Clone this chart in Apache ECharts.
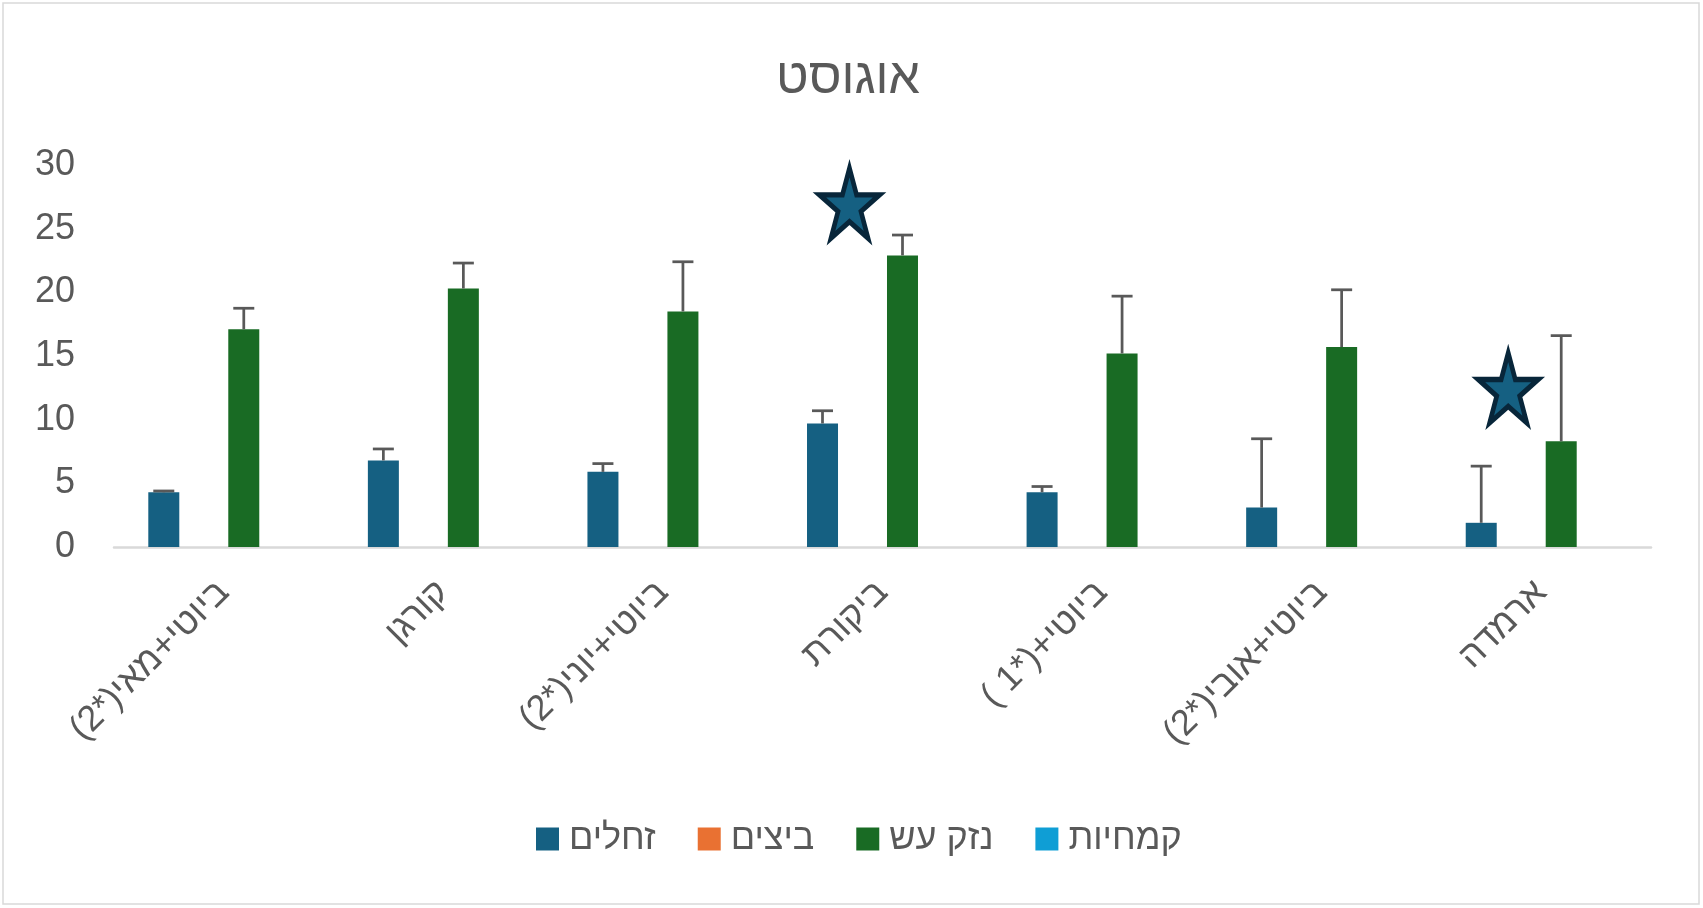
<!doctype html>
<html>
<head>
<meta charset="UTF-8">
<title>אוגוסט</title>
<script src="https://cdn.jsdelivr.net/npm/echarts@6/dist/echarts.min.js"></script>
<style>
    html, body { margin: 0; padding: 0; background: #fff; }
    #chart { width: 1703px; height: 908px; }
</style>
</head>
<body>
<div id="chart" dir="rtl"></div>
<script>
// קטגוריות (טיפולים)
var categories = ['ביוטי+מאי(*2)', 'קורגן', 'ביוטי+יוני(*2)', 'ביקורת', 'ביוטי+(*1 )', 'ביוטי+אובי(*2)', 'ארמדה'];
var seriesNames = ['זחלים', 'ביצים', 'נזק עש', 'קמחיות'];

// ממוצעים
var zachalim = [4.3, 6.8, 5.9, 9.7, 4.3, 3.1, 1.9];
var beitzim = [0, 0, 0, 0, 0, 0, 0];
var nezekAsh = [17.1, 20.3, 18.5, 22.9, 15.2, 15.7, 8.3];
var kamchiot = [0, 0, 0, 0, 0, 0, 0];

// שגיאת תקן (רק כלפי מעלה)
var zachalimErr = [0.1, 0.9, 0.65, 1.0, 0.45, 5.4, 4.45];
var nezekAshErr = [1.65, 2.0, 3.9, 1.6, 4.5, 4.5, 8.3];

// כוכבים - הבדל מובהק
var stars = [[3, 27.0], [6, 12.5]];

var colors = ['#156082', '#E97132', '#196B24', '#0F9ED5'];
var textColor = '#595959';
var font = 'Liberation Sans, Arial, sans-serif';

var barW = 31, barGapPx = 9;
// offset of bar slot i (of 4) from category centre
function slotOffset(i) {
    return (i - 1.5) * (barW + barGapPx);
}

function errData(vals, errs) {
    var out = [];
    for (var i = 0; i < vals.length; i++) {
        out.push([i, vals[i], vals[i] + errs[i]]);
    }
    return out;
}

function errSeries(vals, errs, slot) {
    return {
        type: 'custom',
        silent: true,
        z: 5,
        data: errData(vals, errs),
        renderItem: function (params, api) {
            var top = api.coord([api.value(0), api.value(2)]);
            var base = api.coord([api.value(0), api.value(1)]);
            var x = top[0] + slotOffset(slot);
            var st = { stroke: textColor, lineWidth: 2.75 };
            return {
                type: 'group',
                children: [
                    { type: 'line', shape: { x1: x, y1: base[1], x2: x, y2: top[1] }, style: st },
                    { type: 'line', shape: { x1: x - 10.5, y1: top[1], x2: x + 10.5, y2: top[1] }, style: st }
                ]
            };
        }
    };
}

var myChart = echarts.init(document.getElementById('chart'));

var barSeries = [zachalim, beitzim, nezekAsh, kamchiot].map(function (d, i) {
    return {
        name: seriesNames[i],
        type: 'bar',
        data: d,
        barWidth: barW,
        barGap: '29%',
        itemStyle: { color: colors[i] }
    };
});

var option = {
    animation: false,
    backgroundColor: '#fff',
    textStyle: { fontFamily: font },
    title: {
        text: 'אוגוסט',
        left: 843,
        textAlign: 'center',
        top: 49,
        textStyle: { fontSize: 50, fontWeight: 'normal', color: textColor, fontFamily: font }
    },
    legend: {
        data: seriesNames,
        bottom: 46,
        left: 531,
        itemWidth: 23,
        itemHeight: 23,
        itemGap: 42,
        icon: 'rect',
        textStyle: { fontSize: 36, color: textColor, fontFamily: font, padding: [0, 0, 0, 5] }
    },
    grid: { left: 114, right: 52, top: 165, bottom: 361, containLabel: false },
    xAxis: {
        type: 'category',
        data: categories,
        axisLine: { lineStyle: { color: '#D9D9D9', width: 2.5 } },
        axisTick: { show: false },
        axisLabel: {
            interval: 0,
            rotate: 45,
            margin: 40,
            fontSize: 36,
            color: textColor,
            fontFamily: font
        }
    },
    yAxis: {
        type: 'value',
        min: 0,
        max: 30,
        interval: 5,
        axisLine: { show: false },
        axisTick: { show: false },
        splitLine: { show: false },
        axisLabel: { fontSize: 36, color: textColor, margin: 39, fontFamily: font }
    },
    graphic: [{
        type: 'rect',
        silent: true,
        shape: { x: 3, y: 3, width: 1696, height: 901 },
        style: { fill: null, stroke: '#D9D9D9', lineWidth: 1.5 }
    }],
    series: barSeries.concat([
        errSeries(zachalim, zachalimErr, 0),
        errSeries(nezekAsh, nezekAshErr, 2),
        {
            type: 'scatter',
            data: stars,
            symbol: 'path://M50,0 L61.2,34.5 L97.6,34.5 L68.2,55.9 L79.4,90.5 L50,69.1 L20.6,90.5 L31.8,55.9 L2.4,34.5 L38.8,34.5 Z',
            symbolKeepAspect: false,
            symbolSize: [60, 70],
            symbolOffset: [-33, 0],
            z: 6,
            itemStyle: { color: '#156082', borderColor: '#08263A', borderWidth: 5, opacity: 1 }
        }
    ])
};

myChart.setOption(option);
</script>
</body>
</html>
